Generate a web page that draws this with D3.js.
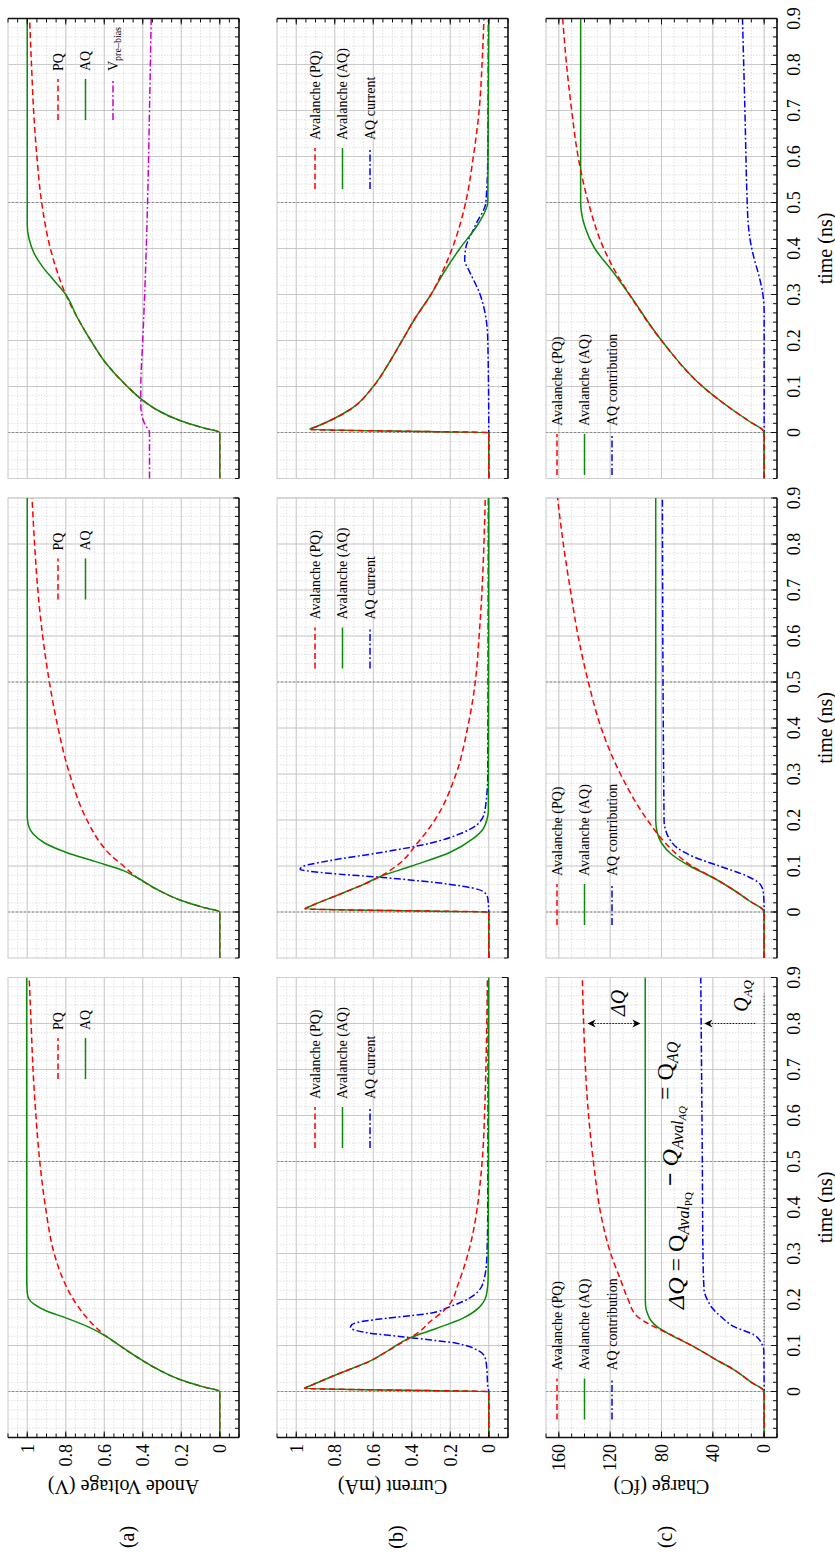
<!DOCTYPE html>
<html><head><meta charset="utf-8">
<script src="https://cdn.jsdelivr.net/npm/d3@7"></script>
<style>body{margin:0;background:#fff}svg{display:block}text{font-family:"Liberation Serif","Times New Roman",serif;fill:#000}</style>
</head><body><svg id="c" width="835" height="1555"></svg>
<script>
// ---------- data ----------
const timeTicks=[0,0.1,0.2,0.3,0.4,0.5,0.6,0.7,0.8,0.9];
const unitTicks=[0,0.2,0.4,0.6,0.8,1];
const chargeTicks=[0,40,80,120,160];
const rowLabels=["(a)","(b)","(c)"];
const rowTitles=["Anode Voltage (V)","Current (mA)","Charge (fC)"];
const darkTimes=[0,0.5];

// (a) anode voltage
const a1AQ=[[-0.1,0],[0,0],[0.01,0.085],[0.025,0.2],[0.05,0.33],[0.075,0.43],[0.1,0.52],[0.12,0.59],[0.14,0.68],[0.16,0.8],[0.175,0.9],[0.19,0.965],[0.2,0.99],[0.215,1.0],[0.25,1.003],[0.9,1.003]];
const a1PQ=[[-0.1,0],[0,0],[0.01,0.085],[0.025,0.2],[0.05,0.33],[0.075,0.43],[0.1,0.52],[0.12,0.59],[0.14,0.645],[0.16,0.69],[0.2,0.76],[0.25,0.82],[0.3,0.86],[0.4,0.905],[0.5,0.935],[0.6,0.955],[0.7,0.97],[0.8,0.98],[0.9,0.99]];
const a2AQ=[[-0.1,0],[0,0],[0.01,0.085],[0.025,0.2],[0.05,0.33],[0.075,0.43],[0.09,0.5],[0.11,0.65],[0.13,0.8],[0.15,0.91],[0.17,0.97],[0.19,0.995],[0.21,1.0],[0.9,1.0]];
const a2PQ=[[-0.1,0],[0,0],[0.01,0.085],[0.025,0.2],[0.05,0.33],[0.075,0.43],[0.1,0.5],[0.125,0.57],[0.15,0.62],[0.2,0.69],[0.3,0.78],[0.4,0.84],[0.5,0.885],[0.6,0.92],[0.7,0.945],[0.8,0.962],[0.9,0.975]];
const a3AQ=[[-0.1,0],[0,0],[0.01,0.085],[0.025,0.2],[0.05,0.33],[0.07,0.4],[0.1,0.48],[0.15,0.59],[0.2,0.67],[0.25,0.74],[0.3,0.8],[0.33,0.86],[0.36,0.92],[0.39,0.965],[0.42,0.99],[0.45,1.0],[0.9,1.0]];
const a3PQ=[[-0.1,0],[0,0],[0.01,0.085],[0.025,0.2],[0.05,0.33],[0.07,0.4],[0.1,0.48],[0.15,0.59],[0.2,0.67],[0.25,0.74],[0.3,0.8],[0.35,0.845],[0.4,0.88],[0.5,0.925],[0.6,0.95],[0.7,0.967],[0.8,0.978],[0.9,0.988]];
const a3Pre=[[-0.1,0.365],[0,0.365],[0.015,0.385],[0.03,0.4],[0.06,0.41],[0.1,0.41],[0.2,0.4],[0.3,0.39],[0.5,0.375],[0.7,0.365],[0.9,0.356]];

// (b) current
const b1AQ=[[-0.1,0],[0,0],[0.003,0.5],[0.007,0.957],[0.012,0.93],[0.036,0.796],[0.067,0.613],[0.09,0.518],[0.116,0.413],[0.137,0.273],[0.159,0.136],[0.184,0.047],[0.2,0.02],[0.217,0.009],[0.25,0.003],[0.9,0]];
const b1PQ=[[-0.1,0],[0,0],[0.003,0.5],[0.007,0.957],[0.012,0.93],[0.036,0.796],[0.067,0.613],[0.09,0.518],[0.116,0.413],[0.13,0.36],[0.15,0.31],[0.177,0.23],[0.195,0.195],[0.232,0.16],[0.286,0.117],[0.329,0.09],[0.387,0.064],[0.46,0.043],[0.525,0.03],[0.612,0.021],[0.7,0.015],[0.8,0.01],[0.9,0.007]];
const b1Cur=[[-0.1,0],[0,0],[0.01,0.005],[0.05,0.01],[0.075,0.02],[0.087,0.047],[0.1,0.12],[0.105,0.169],[0.112,0.3],[0.119,0.45],[0.127,0.62],[0.134,0.7],[0.139,0.718],[0.145,0.712],[0.152,0.66],[0.159,0.535],[0.165,0.4],[0.17,0.308],[0.184,0.204],[0.203,0.1],[0.22,0.05],[0.235,0.03],[0.29,0.01],[0.4,0.005],[0.9,0.003]];
const b2AQ=[[-0.1,0],[0,0],[0.003,0.5],[0.007,0.955],[0.012,0.93],[0.036,0.79],[0.06,0.65],[0.076,0.57],[0.1,0.4],[0.13,0.2],[0.16,0.08],[0.18,0.03],[0.2,0.01],[0.22,0.002],[0.9,0]];
const b2PQ=[[-0.1,0],[0,0],[0.003,0.5],[0.007,0.955],[0.012,0.93],[0.036,0.79],[0.06,0.65],[0.076,0.57],[0.1,0.48],[0.15,0.37],[0.2,0.28],[0.3,0.17],[0.4,0.11],[0.5,0.07],[0.6,0.05],[0.7,0.035],[0.8,0.025],[0.9,0.018]];
const b2Cur=[[-0.1,0],[0,0],[0.03,0.005],[0.045,0.03],[0.06,0.2],[0.075,0.55],[0.085,0.85],[0.093,0.98],[0.1,0.96],[0.11,0.85],[0.13,0.55],[0.15,0.3],[0.17,0.15],[0.19,0.06],[0.22,0.02],[0.3,0.005],[0.9,0.002]];
const b3AQ=[[-0.1,0],[0,0],[0.003,0.5],[0.007,0.93],[0.012,0.9],[0.05,0.72],[0.1,0.6],[0.15,0.52],[0.2,0.45],[0.25,0.38],[0.3,0.3],[0.35,0.23],[0.4,0.15],[0.45,0.06],[0.48,0.02],[0.5,0.005],[0.9,0]];
const b3PQ=[[-0.1,0],[0,0],[0.003,0.5],[0.007,0.93],[0.012,0.9],[0.05,0.72],[0.1,0.6],[0.15,0.52],[0.2,0.45],[0.25,0.38],[0.3,0.3],[0.35,0.24],[0.4,0.19],[0.5,0.12],[0.6,0.08],[0.7,0.05],[0.8,0.035],[0.9,0.025]];
const b3Cur=[[-0.1,0],[0,0],[0.2,0.005],[0.25,0.015],[0.3,0.045],[0.35,0.1],[0.375,0.125],[0.4,0.12],[0.45,0.07],[0.5,0.015],[0.6,0.005],[0.9,0.002]];

// (c) charge
const c1AQ=[[-0.1,0],[0,0],[0.02,10],[0.047,23.4],[0.07,38],[0.097,54.6],[0.127,75.4],[0.14,83],[0.155,88.4],[0.17,91],[0.184,92.3],[0.2,92.6],[0.9,92.7]];
const c1PQ=[[-0.1,0],[0,0],[0.02,10],[0.047,23.4],[0.07,38],[0.097,54.6],[0.127,75.4],[0.141,85.8],[0.163,98.8],[0.2,106],[0.242,111.8],[0.3,119.6],[0.387,127.4],[0.489,132.6],[0.547,135],[0.634,137.8],[0.75,140],[0.9,141.7]];
const c1Con=[[-0.1,0],[0,0],[0.09,0.3],[0.1,1.3],[0.123,7.8],[0.141,23.4],[0.163,33.8],[0.181,40.3],[0.199,44.2],[0.22,46.8],[0.3,47.7],[0.5,48.2],[0.9,49.4]];
const c2AQ=[[-0.1,0],[0,0],[0.025,12],[0.05,25],[0.075,40],[0.1,58],[0.125,72],[0.15,80],[0.175,83.5],[0.2,84.5],[0.9,84.5]];
const c2PQ=[[-0.1,0],[0,0],[0.025,12],[0.05,25],[0.075,40],[0.1,56.5],[0.125,68],[0.15,77],[0.2,91],[0.3,112],[0.4,127],[0.5,137],[0.6,145],[0.7,151],[0.8,156.5],[0.9,161]];
const c2Con=[[-0.1,0],[0,0],[0.04,0.5],[0.06,3],[0.08,15],[0.1,35],[0.12,55],[0.14,68],[0.16,74],[0.18,77],[0.2,78],[0.9,79.3]];
const c3AQ=[[-0.1,0],[0,0],[0.025,12],[0.05,25],[0.1,48],[0.2,80],[0.3,105],[0.35,118],[0.4,132],[0.45,140],[0.5,143],[0.9,143]];
const c3PQ=[[-0.1,0],[0,0],[0.025,12],[0.05,25],[0.1,48],[0.2,80],[0.3,105],[0.35,116],[0.4,125],[0.5,137],[0.6,145],[0.7,150],[0.8,154],[0.9,157]];
const c3Con=[[-0.1,0],[0,0],[0.26,0],[0.3,1],[0.34,4],[0.38,8],[0.42,11],[0.46,12.6],[0.5,13.2],[0.7,15],[0.9,16.9]];

// ---------- styles ----------
const RED={c:"#ff0000",d:"6,3.5",w:1.5}, GREEN={c:"#0b8a0b",d:null,w:1.5},
      BLUE={c:"#0000ff",d:"7,2.5,1.8,2.5",w:1.5}, MAG={c:"#cc00cc",d:"7,2.5,1.8,2.5",w:1.5};

const panels=[
 {r:0,c:0,series:[[a1PQ,RED],[a1AQ,GREEN]],leg:[["PQ",RED],["AQ",GREEN]]},
 {r:0,c:1,series:[[a2PQ,RED],[a2AQ,GREEN]],leg:[["PQ",RED],["AQ",GREEN]]},
 {r:0,c:2,series:[[a3Pre,MAG],[a3PQ,RED],[a3AQ,GREEN]],leg:[["PQ",RED],["AQ",GREEN],["Vpre",MAG]]},
 {r:1,c:0,series:[[b1Cur,BLUE],[b1AQ,GREEN],[b1PQ,RED]],leg:[["Avalanche (PQ)",RED],["Avalanche (AQ)",GREEN],["AQ current",BLUE]]},
 {r:1,c:1,series:[[b2Cur,BLUE],[b2AQ,GREEN],[b2PQ,RED]],leg:[["Avalanche (PQ)",RED],["Avalanche (AQ)",GREEN],["AQ current",BLUE]]},
 {r:1,c:2,series:[[b3Cur,BLUE],[b3AQ,GREEN],[b3PQ,RED]],leg:[["Avalanche (PQ)",RED],["Avalanche (AQ)",GREEN],["AQ current",BLUE]]},
 {r:2,c:0,series:[[c1Con,BLUE],[c1AQ,GREEN],[c1PQ,RED]],leg:[["Avalanche (PQ)",RED],["Avalanche (AQ)",GREEN],["AQ contribution",BLUE]]},
 {r:2,c:1,series:[[c2Con,BLUE],[c2AQ,GREEN],[c2PQ,RED]],leg:[["Avalanche (PQ)",RED],["Avalanche (AQ)",GREEN],["AQ contribution",BLUE]]},
 {r:2,c:2,series:[[c3Con,BLUE],[c3AQ,GREEN],[c3PQ,RED]],leg:[["Avalanche (PQ)",RED],["Avalanche (AQ)",GREEN],["AQ contribution",BLUE]]}
];

// ---------- layout (unrotated figure 1555 x 835) ----------
const colX=[[117.5,577.5],[597,1057],[1076.5,1536.5]];
const rowY=[[8,239],[277,508],[546,777]];
const svg=d3.select("#c");
const root=svg.append("g").attr("transform","translate(0,1555) rotate(-90)");
const defs=svg.append("defs");
defs.append("marker").attr("id","ah").attr("viewBox","0 0 10 10").attr("refX",9).attr("refY",5)
 .attr("markerWidth",9).attr("markerHeight",9).attr("orient","auto-start-reverse")
 .append("path").attr("d","M0,0 L10,5 L0,10 L3,5 Z").attr("fill","#000");

const minorT=d3.range(0,51).map(i=>-0.1+i*0.02);
const minorU=d3.range(0,25).map(i=>-0.1+i*0.05);
const minorC=d3.range(0,19).map(i=>-10+i*10);

const scales={};
panels.forEach((p,pi)=>{
  const [X0,X1]=colX[p.c],[Y0,Y1]=rowY[p.r];
  const x=d3.scaleLinear().domain([-0.1,0.9]).range([X0,X1]);
  const y=d3.scaleLinear().domain(p.r<2?[-0.1,1.1]:[-10,170]).range([Y1,Y0]);
  scales[pi]={x,y};
  const g=root.append("g");
  const minorV=p.r<2?minorU:minorC, majorV=p.r<2?unitTicks:chargeTicks;
  // minor grid
  g.selectAll(".mt").data(minorT).join("line").attr("x1",d=>x(d)).attr("x2",d=>x(d)).attr("y1",Y0).attr("y2",Y1)
   .attr("stroke","#d4d4d4").attr("stroke-width",0.7).attr("stroke-dasharray","1.5,1.5");
  g.selectAll(".mv").data(minorV).join("line").attr("y1",d=>y(d)).attr("y2",d=>y(d)).attr("x1",X0).attr("x2",X1)
   .attr("stroke","#d4d4d4").attr("stroke-width",0.7).attr("stroke-dasharray","1.5,1.5");
  // major grid
  g.selectAll(".Mt").data(timeTicks).join("line").attr("x1",d=>x(d)).attr("x2",d=>x(d)).attr("y1",Y0).attr("y2",Y1)
   .attr("stroke","#c4c4c4").attr("stroke-width",0.9);
  g.selectAll(".Mv").data(majorV).join("line").attr("y1",d=>y(d)).attr("y2",d=>y(d)).attr("x1",X0).attr("x2",X1)
   .attr("stroke","#c4c4c4").attr("stroke-width",0.9);
  g.selectAll(".Dt").data(darkTimes).join("line").attr("x1",d=>x(d)).attr("x2",d=>x(d)).attr("y1",Y0).attr("y2",Y1)
   .attr("stroke","#8a8a8a").attr("stroke-width",1).attr("stroke-dasharray","2,2");
  // frame
  g.append("rect").attr("x",X0).attr("y",Y0).attr("width",X1-X0).attr("height",Y1-Y0)
   .attr("fill","none").attr("stroke","#cfcfcf").attr("stroke-width",1);
  // curves
  const cid="clip"+pi;
  defs.append("clipPath").attr("id",cid).append("rect").attr("x",X0).attr("y",Y0).attr("width",X1-X0).attr("height",Y1-Y0);
  const line=d3.line().x(d=>x(d[0])).y(d=>y(d[1])).curve(d3.curveMonotoneX);
  const cg=g.append("g").attr("clip-path",`url(#${cid})`);
  p.series.forEach(([data,st])=>{
    cg.append("path").attr("d",line(data)).attr("fill","none").attr("stroke",st.c).attr("stroke-width",st.w)
      .attr("stroke-dasharray",st.d);
  });
  // bottom axis (original) - time
  const ax=g.append("g").attr("stroke","#111");
  ax.append("line").attr("x1",X0).attr("x2",X1).attr("y1",Y1).attr("y2",Y1).attr("stroke-width",1.6);
  ax.selectAll(".tm").data(minorT).join("line").attr("x1",d=>x(d)).attr("x2",d=>x(d)).attr("y1",Y1).attr("y2",Y1-4).attr("stroke-width",1);
  ax.selectAll(".tM").data(timeTicks).join("line").attr("x1",d=>x(d)).attr("x2",d=>x(d)).attr("y1",Y1).attr("y2",Y1-6).attr("stroke-width",1);
  if(p.c===0){
    ax.append("line").attr("x1",X0).attr("x2",X0).attr("y1",Y0).attr("y2",Y1).attr("stroke-width",1.6);
    ax.selectAll(".vm").data(minorV).join("line").attr("y1",d=>y(d)).attr("y2",d=>y(d)).attr("x1",X0).attr("x2",X0+4).attr("stroke-width",1);
    ax.selectAll(".vM").data(majorV).join("line").attr("y1",d=>y(d)).attr("y2",d=>y(d)).attr("x1",X0).attr("x2",X0+6).attr("stroke-width",1);
    g.selectAll(".vl").data(majorV).join("text").attr("x",X0-6.5).attr("y",d=>y(d)).attr("dy","0.35em")
     .attr("text-anchor","end").attr("font-size",18).text(d=>d3.format("~g")(d));
    const yc=(Y0+Y1)/2;
    g.append("text").attr("transform",`translate(68,${yc}) rotate(-90)`).attr("text-anchor","middle").attr("dy","0.35em")
     .attr("font-size",20).text(rowTitles[p.r]);
    g.append("text").attr("x",18).attr("y",yc+3).attr("dy","0.35em").attr("text-anchor","middle").attr("font-size",20).text(rowLabels[p.r]);
  }
  if(p.c===2){
    ax.append("line").attr("x1",X1).attr("x2",X1).attr("y1",Y0).attr("y2",Y1).attr("stroke-width",1.6);
    ax.selectAll(".wm").data(minorV).join("line").attr("y1",d=>y(d)).attr("y2",d=>y(d)).attr("x1",X1).attr("x2",X1-4).attr("stroke-width",1);
    ax.selectAll(".wM").data(majorV).join("line").attr("y1",d=>y(d)).attr("y2",d=>y(d)).attr("x1",X1).attr("x2",X1-6).attr("stroke-width",1);
  }
  if(p.r===2){
    g.selectAll(".tl").data(timeTicks).join("text").attr("x",d=>x(d)).attr("y",Y1+23).attr("text-anchor","middle")
     .attr("font-size",18).text(d=>d3.format("~g")(d));
    g.append("text").attr("x",(X0+X1)/2).attr("y",832).attr("text-anchor","middle").attr("font-size",20).text("time (ns)");
  }
  // legend
  let lx0,ly0;
  if(p.r===0){lx0=X1-101.5; ly0=Y0+50;}
  else if(p.r===1){lx0=X1-170.5; ly0=Y0+38;}
  else {lx0=[X0+18,X0+33,X0+3.5][p.c]; ly0=Y0+11;}
  p.leg.forEach(([lab,st],i)=>{
    const ly=ly0+i*27.5;
    g.append("line").attr("x1",lx0).attr("x2",lx0+41).attr("y1",ly).attr("y2",ly).attr("stroke",st.c)
     .attr("stroke-width",st.w).attr("stroke-dasharray",st.d);
    const t=g.append("text").attr("x",lx0+49).attr("y",ly).attr("dy","0.35em").attr("font-size",14);
    if(lab==="Vpre"){t.append("tspan").text("V");t.append("tspan").attr("font-size",10).attr("dy","0.35em").text("pre–bias");}
    else t.text(lab);
  });
});

// ---------- annotations in (c) left panel ----------
{
  const {x,y}=scales[6];
  const ga=root.append("g");
  ga.append("line").attr("x1",x(0.1)).attr("x2",x(0.865)).attr("y1",y(0)).attr("y2",y(0))
    .attr("stroke","#333").attr("stroke-width",0.8).attr("stroke-dasharray","1.5,1.5");
  ga.append("line").attr("x1",x(0.8)).attr("x2",x(0.8)).attr("y1",y(137)).attr("y2",y(97))
    .attr("stroke","#000").attr("stroke-width",0.9).attr("stroke-dasharray","1.5,1.5")
    .attr("marker-start","url(#ah)").attr("marker-end","url(#ah)");
  ga.append("line").attr("x1",x(0.8)).attr("x2",x(0.8)).attr("y1",y(7)).attr("y2",y(46))
    .attr("stroke","#000").attr("stroke-width",0.9).attr("stroke-dasharray","1.5,1.5").attr("marker-end","url(#ah)");
  ga.append("text").attr("x",x(0.845)).attr("y",y(114)).attr("dy","0.35em").attr("text-anchor","middle")
    .attr("font-size",20).attr("font-style","italic").text("ΔQ");
  const qa=ga.append("text").attr("x",x(0.86)).attr("y",y(18)).attr("dy","0.35em").attr("text-anchor","middle")
    .attr("font-size",20).attr("font-style","italic");
  qa.append("tspan").text("Q"); qa.append("tspan").attr("font-size",13).attr("dy","0.3em").text("AQ");
  const eq=ga.append("text").attr("x",x(0.47)).attr("y",y(69)).attr("dy","0.35em").attr("text-anchor","middle").attr("font-size",24);
  eq.append("tspan").attr("font-style","italic").text("ΔQ");
  eq.append("tspan").text(" = Q");
  eq.append("tspan").attr("font-size",16).attr("dy","0.3em").attr("font-style","italic").text("Aval");
  eq.append("tspan").attr("font-size",11).attr("dy","0.25em").text("PQ");
  eq.append("tspan").attr("dy","-0.55em").attr("font-weight","bold").text(" − ");
  eq.append("tspan").attr("font-style","italic").text("Q");
  eq.append("tspan").attr("font-size",16).attr("dy","0.3em").attr("font-style","italic").text("Aval");
  eq.append("tspan").attr("font-size",11).attr("dy","0.25em").attr("font-style","italic").text("AQ");
  eq.append("tspan").attr("dy","-0.55em").text(" = Q");
  eq.append("tspan").attr("font-size",16).attr("dy","0.3em").attr("font-style","italic").text("AQ");
}
</script></body></html>
